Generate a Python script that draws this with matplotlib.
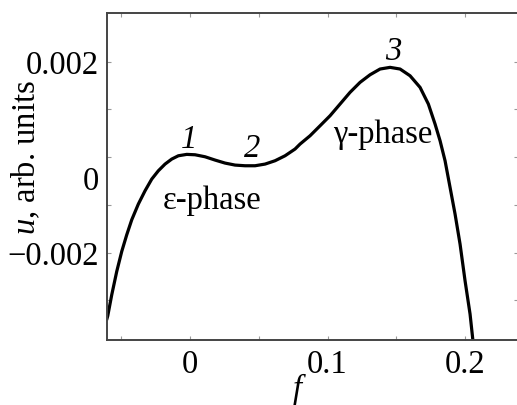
import matplotlib
matplotlib.use("Agg")
import matplotlib.pyplot as plt
import matplotlib.transforms as mtransforms

plt.rcParams['font.family'] = ['Liberation Serif', 'DejaVu Serif']
plt.rcParams['mathtext.fontset'] = 'custom'
plt.rcParams['mathtext.rm'] = 'Liberation Serif'
plt.rcParams['mathtext.it'] = 'Liberation Serif:italic'

# curve u(f)
f_vals = [-0.0604, -0.05985, -0.05695, -0.05331, -0.04967, -0.04604, -0.0424, -0.0376,
          -0.03273, -0.02785, -0.02305, -0.01818, -0.01331, -0.00851, -0.0024, 0.00364,
          0.01091, 0.01818, 0.02545, 0.03273, 0.04, 0.04727, 0.05455, 0.06182, 0.06909,
          0.07636, 0.08, 0.08727, 0.09455, 0.10182, 0.10909, 0.11636, 0.12364, 0.13091,
          0.13818, 0.14545, 0.15273, 0.16, 0.16727, 0.17331, 0.17818, 0.18182, 0.18545,
          0.18909, 0.19273, 0.19636, 0.2, 0.20364, 0.2056]
u_vals = [-0.00338, -0.003324, -0.002884, -0.002394, -0.001975, -0.001627, -0.001313, -0.000984,
          -0.000706, -0.000461, -0.000287, -0.000147, -0.000042, 0.000027, 0.000056, 0.000048,
          0.000006, -0.000063, -0.000126, -0.000168, -0.000182, -0.000182, -0.000147, -0.000077, 0.000027,
          0.000168, 0.000272, 0.000446, 0.000655, 0.000865, 0.00111, 0.001355, 0.001564, 0.001723,
          0.001843, 0.001878, 0.001843, 0.001702, 0.001459, 0.00111, 0.000691, 0.000342, -0.000077,
          -0.000635, -0.001194, -0.001822, -0.002591, -0.003288, -0.003811]

x_major = [0, 0.1, 0.2]
x_major_labels = ["0", "0.1", "0.2"]
x_minor = [-0.05, 0.05, 0.15]
y_major = [-0.002, 0, 0.002]
y_major_labels = ["\u22120.002", "0", "0.002"]
y_minor = [-0.003, -0.001, 0.001]

# point labels and phase names
marks = ["1", "2", "3"]
marks_f = [-0.0007, 0.0451, 0.1476]
marks_u = [0.00021, 0.00002, 0.00205]
phases = ["\u03b5-phase", "\u03b3-phase"]
phases_f = [0.016, 0.1404]
phases_u = [-0.00107, 0.00031]

FS = 23.5

fig = plt.figure(figsize=(5.17, 4.06), dpi=100)
ax = fig.add_axes([107 / 517, 1 - 341 / 406, 411 / 517, 327 / 406])

ax.plot(f_vals, u_vals, color='black', lw=2.3, solid_joinstyle='round')

ax.set_xlim(-0.0604, 0.2385)
ax.set_ylim(-0.00383, 0.003016)

ax.set_xticks(x_major)
ax.set_xticklabels(x_major_labels)
ax.set_xticks(x_minor, minor=True)
ax.set_yticks(y_major)
ax.set_yticklabels(y_major_labels)
ax.set_yticks(y_minor, minor=True)

for which in ('major', 'minor'):
    ax.tick_params(which=which, direction='in', length=3, width=0.8, color='#999999',
                   top=True, right=True, labelsize=FS, pad=6)

for sp in ax.spines.values():
    sp.set_color('#444444')
    sp.set_linewidth(1.4)

# the "0" label sits lower than its tick in the original
lbl = ax.get_yticklabels()[1]
lbl.set_transform(lbl.get_transform() + mtransforms.ScaledTranslation(0, -20 / 100, fig.dpi_scale_trans))

ax.set_xlabel("f", fontsize=FS, fontstyle='italic')
ax.xaxis.set_label_coords((297 - 107) / 411, -0.1)
ax.set_ylabel("$u$, arb. units", fontsize=FS, va='center')
ax.yaxis.set_label_coords((26 - 107) / 411, (341 - 158) / 327)

for t, x, y in zip(marks, marks_f, marks_u):
    ax.text(x, y, t, fontsize=FS, fontstyle='italic', ha='center', va='baseline')
for t, x, y in zip(phases, phases_f, phases_u):
    ax.text(x, y, t, fontsize=FS, ha='center', va='baseline')

fig.savefig("out.png", dpi=100)
